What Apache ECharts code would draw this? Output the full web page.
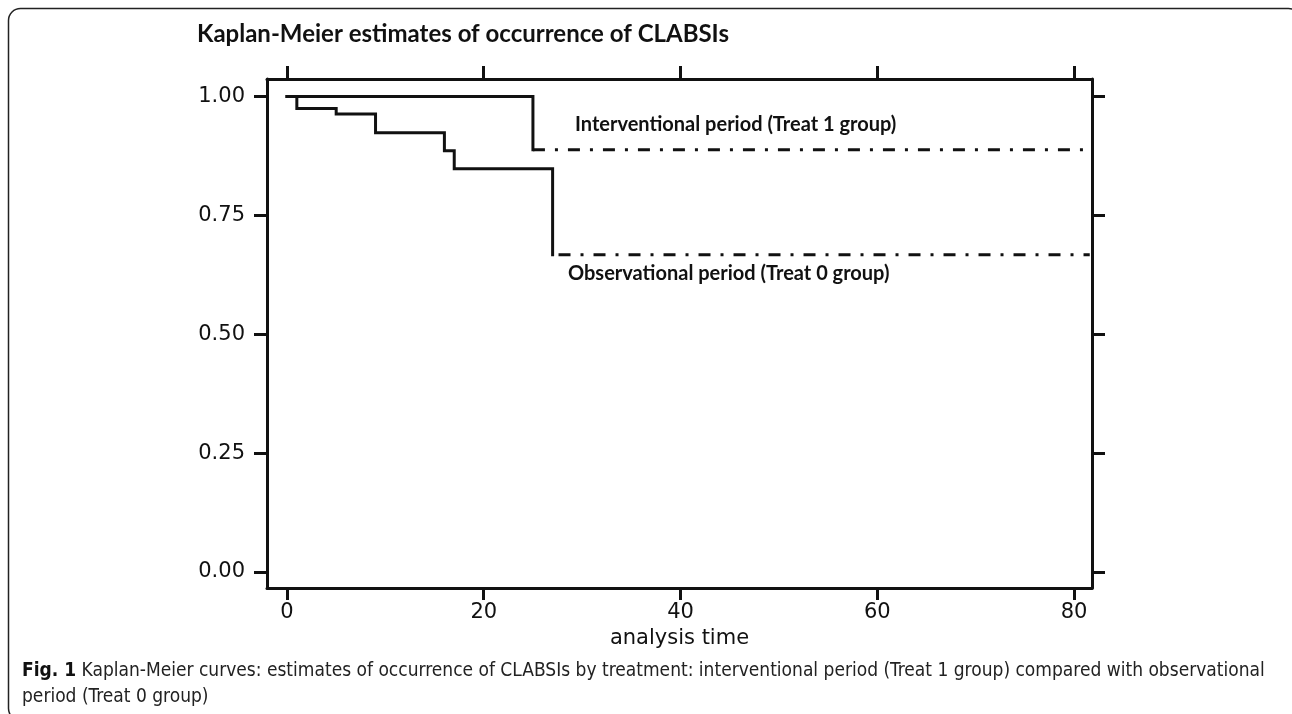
<!DOCTYPE html>
<html>
<head>
<meta charset="utf-8">
<script src="https://cdn.jsdelivr.net/npm/echarts@6/dist/echarts.min.js"></script>
<style>html,body{margin:0;padding:0;background:#fff;}#c{width:1292px;height:714px;}</style>
</head>
<body>
<div id="c"></div>
<script>
// Data
const xTicks = [0, 20, 40, 60, 80];
const yTicks = [0, 0.25, 0.5, 0.75, 1];
// Treat 1 group (interventional period): solid step part then censored tail
const treat1Times = [0, 25];
const treat1Surv = [1, 0.888];
const treat1TailTimes = [25, 81.2];
const treat1TailSurv = [0.888, 0.888];
// Treat 0 group (observational period)
const treat0Times = [0, 1, 5, 9, 16, 17, 27];
const treat0Surv = [1, 0.975, 0.963, 0.924, 0.886, 0.848, 0.667];
const treat0TailTimes = [27.6, 81.6];
const treat0TailSurv = [0.667, 0.667];

const titleText = 'Kaplan-Meier estimates of occurrence of CLABSIs';
const label1 = 'Interventional period (Treat 1 group)';
const label0 = 'Observational period (Treat 0 group)';
const xName = 'analysis time';

const zip = (a, b) => a.map((v, i) => [v, b[i]]);
const dashDot = [12, 10, 3, 10];
const axisCol = '#111';
const tickFont = 'DejaVu Sans';

const chart = echarts.init(document.getElementById('c'), null, {renderer: 'canvas'});
const option = {
  animation: false,
  backgroundColor: '#fff',
  grid: {left: 267, top: 79, width: 825, height: 509},
  xAxis: [
    {
      type: 'value', min: -2.033, max: 81.83, position: 'bottom',
      name: xName, nameLocation: 'middle', nameGap: 34,
      nameTextStyle: {fontFamily: tickFont, fontSize: 21, color: '#111'},
      axisLine: {show: true, onZero: false, lineStyle: {color: axisCol, width: 3}},
      axisTick: {show: true, length: 12, lineStyle: {color: axisCol, width: 3}, customValues: xTicks},
      axisLabel: {show: true, margin: 14, fontFamily: tickFont, fontSize: 21, color: '#111', customValues: xTicks},
      splitLine: {show: false}
    },
    {
      type: 'value', min: -2.033, max: 81.83, position: 'top',
      axisLine: {show: true, onZero: false, lineStyle: {color: axisCol, width: 3}},
      axisTick: {show: true, length: 13, lineStyle: {color: axisCol, width: 3}, customValues: xTicks},
      axisLabel: {show: false},
      splitLine: {show: false}
    }
  ],
  yAxis: [
    {
      type: 'value', min: -0.0336, max: 1.0368, position: 'left',
      axisLine: {show: true, onZero: false, lineStyle: {color: axisCol, width: 3}},
      axisTick: {show: true, length: 13, lineStyle: {color: axisCol, width: 3}, customValues: yTicks},
      axisLabel: {show: true, margin: 22, fontFamily: tickFont, fontSize: 21, color: '#111',
        customValues: yTicks, formatter: v => Number(v).toFixed(2)},
      splitLine: {show: false}
    },
    {
      type: 'value', min: -0.0336, max: 1.0368, position: 'right',
      axisLine: {show: true, onZero: false, lineStyle: {color: axisCol, width: 3}},
      axisTick: {show: true, length: 13, lineStyle: {color: axisCol, width: 3}, customValues: yTicks},
      axisLabel: {show: false},
      splitLine: {show: false}
    }
  ],
  series: [
    {
      type: 'line', step: 'end', data: zip(treat1Times, treat1Surv), symbol: 'none',
      lineStyle: {color: '#111', width: 3, cap: 'square', join: 'miter'}
    },
    {
      type: 'line', data: zip(treat1TailTimes, treat1TailSurv), symbol: 'none',
      lineStyle: {color: '#111', width: 3, type: dashDot, cap: 'butt'}
    },
    {
      type: 'line', step: 'end', data: zip(treat0Times, treat0Surv), symbol: 'none',
      lineStyle: {color: '#111', width: 3, cap: 'square', join: 'miter'}
    },
    {
      type: 'line', data: zip(treat0TailTimes, treat0TailSurv), symbol: 'none',
      lineStyle: {color: '#111', width: 3, type: dashDot, cap: 'butt'}
    }
  ],
  graphic: [
    {
      type: 'rect', shape: {x: 8.5, y: 8.5, width: 1292, height: 712, r: 12},
      style: {fill: null, stroke: '#222', lineWidth: 1.5}, silent: true
    },
    {
      type: 'text', left: 197, top: 22,
      style: {text: titleText, font: 'bold 24px Lato, "Open Sans", sans-serif', fill: '#111'}
    },
    {
      type: 'text', left: 575, top: 115,
      style: {text: label1, font: 'bold 20px Lato, "Open Sans", sans-serif', fill: '#111'}
    },
    {
      type: 'text', left: 568, top: 264,
      style: {text: label0, font: 'bold 20px Lato, "Open Sans", sans-serif', fill: '#111'}
    },
    {
      type: 'text', left: 22, top: 658,
      style: {
        text: '{b|Fig. 1} Kaplan-Meier curves: estimates of occurrence of CLABSIs by treatment: interventional period (Treat 1 group) compared with observational\nperiod (Treat 0 group)',
        fontFamily: '"Liberation Sans Narrow", "DejaVu Sans Condensed", "Open Sans", sans-serif',
        fontSize: 19, lineHeight: 26, fill: '#222',
        rich: {b: {fontFamily: '"Liberation Sans Narrow", "DejaVu Sans Condensed", sans-serif', fontWeight: 'bold', fontSize: 19, fill: '#111'}}
      }
    }
  ]
};
chart.setOption(option);
</script>
</body>
</html>
